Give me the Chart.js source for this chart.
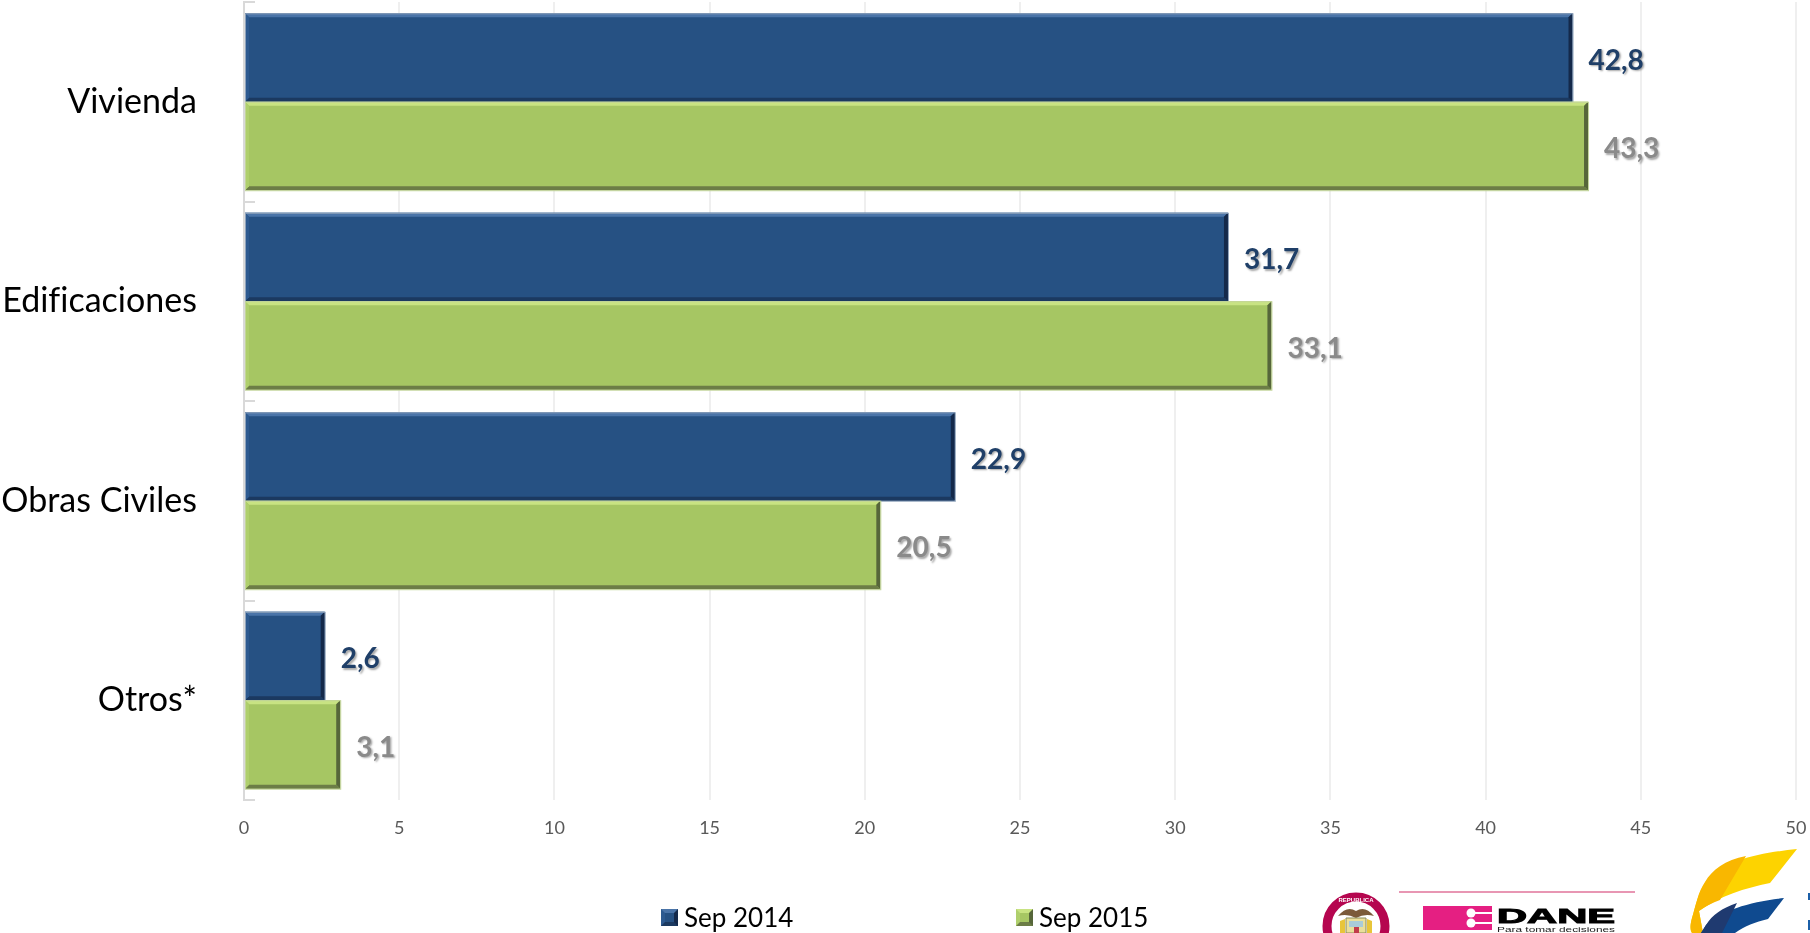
<!DOCTYPE html>
<html>
<head>
  <meta charset="UTF-8">
  <title>Sep 2014 - Sep 2015</title>
  <style>
    html, body { margin: 0; padding: 0; background: #fff; overflow: hidden; }
    #wrap { position: relative; width: 1810px; height: 933px; overflow: hidden; font-family: Lato, sans-serif; }
    #chart { position: absolute; left: 0; top: 0; }
    #logos { position: absolute; left: 0; top: 0; }
    .legend-item { position: absolute; top: 899px; height: 36px; line-height: 36px; font-size: 26px; color: #000; white-space: nowrap; }
    .legend-box { position: absolute; left: -23px; top: 10px; width: 17px; height: 17px; box-sizing: border-box; border-style: solid; border-width: 4px; }
  </style>
  <script src="https://cdn.jsdelivr.net/npm/chart.js"></script>
</head>
<body>
  <div id="wrap">
    <canvas id="chart" width="1810" height="933"></canvas>
    <div id="legend"></div>
    <svg id="logos" width="1810" height="933" viewBox="0 0 1810 933">
      <!-- escudo -->
      <circle cx="1356" cy="926" r="29" fill="#fff" stroke="#b5064f" stroke-width="9"/>
      <text x="1356" y="902" font-family="Liberation Sans" font-size="6" font-weight="bold" fill="#fff" text-anchor="middle">REPUBLICA</text>
      <path d="M1338 916 Q1347 905 1356 911 Q1365 905 1374 916 Q1365 913 1356 918 Q1347 913 1338 916 Z" fill="#7b5a3a"/>
      <path d="M1340 921 L1345 919 L1345 933 L1340 933 Z" fill="#e8c53a"/>
      <path d="M1367 919 L1372 921 L1372 933 L1367 933 Z" fill="#e8c53a"/>
      <path d="M1346 918 L1366 918 L1366 933 L1346 933 Z" fill="#eadf9a" stroke="#8a8a5a" stroke-width="1"/>
      <rect x="1349" y="921" width="14" height="6" fill="#a9cbd8"/>
      <rect x="1354" y="927" width="5" height="6" fill="#c23b4a"/>
      <!-- DANE -->
      <line x1="1399" y1="892" x2="1635" y2="892" stroke="#e0739a" stroke-width="1.5"/>
      <rect x="1423" y="906" width="69" height="24" fill="#e51f82"/>
      <circle cx="1471" cy="913" r="4.5" fill="#fff"/>
      <circle cx="1471" cy="923" r="4.5" fill="#fff"/>
      <rect x="1471" y="912" width="21" height="2" fill="#fff"/>
      <rect x="1471" y="922" width="21" height="2" fill="#fff"/>
      <text x="1497" y="923" font-family="Liberation Sans" font-size="21" font-weight="bold" fill="#000" textLength="118" lengthAdjust="spacingAndGlyphs" stroke="#000" stroke-width="1">DANE</text>
      <text x="1497" y="932" font-family="Liberation Sans" font-size="8" fill="#222" textLength="118" lengthAdjust="spacingAndGlyphs">Para tomar decisiones</text>
      <!-- bandera -->
      <path d="M1797 849 C1760 853 1725 860 1707 880 C1698 892 1696 905 1692 918 C1690 925 1690 930 1692 933 L1703 933 L1699 911 C1720 896 1745 888 1770 883 Z" fill="#fdd300"/>
      <path d="M1746 856 C1725 860 1712 870 1705 882 C1698 892 1696 905 1692 918 C1690 925 1690 930 1692 933 L1703 933 L1699 911 C1706 906 1712 903 1720 900 Z" fill="#f9b700"/>
      <path d="M1784 898 C1750 902 1722 910 1706 925 L1701 933 L1735 933 C1745 926 1755 922 1768 919 Z" fill="#0f4a8f"/>
      <path d="M1737 903 C1722 908 1712 915 1706 925 L1701 933 L1722 933 Z" fill="#1f3a70"/>
      <rect x="1808" y="893" width="2" height="7" fill="#1b5fa8"/>
      <rect x="1808" y="920" width="2" height="10" fill="#1b5fa8"/>
    </svg>
  </div>

  <script>
    // Datos
    const categorias = ['Vivienda', 'Edificaciones', 'Obras Civiles', 'Otros*'];
    const sep2014 = [42.8, 31.7, 22.9, 2.6];
    const sep2015 = [43.3, 33.1, 20.5, 3.1];
    const etiquetaSerie1 = 'Sep 2014';
    const etiquetaSerie2 = 'Sep 2015';

    // Colores de cada serie: relleno, bordes del bisel y etiqueta
    const estilos = [
      { fill: '#265183', top: '#4a74a8', right: '#14294a', bottom: '#1b3960', left: '#2d5a90', text: '#1f3f68', edge: '#8fa3bb', x: 684 },
      { fill: '#a6c663', top: '#c8e382', right: '#56663a', bottom: '#6c7d46', left: '#afcf6c', text: '#8a8a8a', edge: '#c3d59a', x: 1039 }
    ];

    // Bisel de las barras, usa la geometria que calcula Chart.js
    const biselPlugin = {
      id: 'bisel',
      afterDatasetsDraw(chart) {
        const ctx = chart.ctx;
        const d = 4;
        chart.data.datasets.forEach((ds, i) => {
          const st = estilos[i];
          chart.getDatasetMeta(i).data.forEach(el => {
            const p = el.getProps(['x', 'y', 'base', 'height']);
            const x0 = p.base, x1 = p.x, y0 = p.y - p.height / 2, y1 = p.y + p.height / 2;
            const poly = (color, pts) => {
              ctx.fillStyle = color;
              ctx.beginPath();
              pts.forEach((q, k) => k ? ctx.lineTo(q[0], q[1]) : ctx.moveTo(q[0], q[1]));
              ctx.closePath();
              ctx.fill();
            };
            ctx.save();
            poly(st.top, [[x0, y0], [x1, y0], [x1 - d, y0 + d], [x0 + d, y0 + d]]);
            poly(st.bottom, [[x0, y1], [x1, y1], [x1 - d, y1 - d], [x0 + d, y1 - d]]);
            poly(st.right, [[x1, y0], [x1, y1], [x1 - d, y1 - d], [x1 - d, y0 + d]]);
            poly(st.left, [[x0, y0], [x0, y1], [x0 + d, y1 - d], [x0 + d, y0 + d]]);
            ctx.strokeStyle = st.edge;
            ctx.lineWidth = 1;
            ctx.strokeRect(x0 + 0.5, y0 + 0.5, x1 - x0, y1 - y0);
            ctx.restore();
          });
        });
      }
    };

    // Etiquetas de valor con coma decimal y sombra
    const etiquetasPlugin = {
      id: 'etiquetas',
      beforeDraw(chart) {
        chart.ctx.letterSpacing = '0.01px'; // evita la ligadura fi de Lato
      },
      afterDatasetsDraw(chart) {
        const ctx = chart.ctx;
        chart.data.datasets.forEach((ds, i) => {
          chart.getDatasetMeta(i).data.forEach((el, j) => {
            ctx.save();
            ctx.font = 'bold 28px Lato, sans-serif';
            ctx.fillStyle = estilos[i].text;
            ctx.textAlign = 'left';
            ctx.textBaseline = 'middle';
            ctx.shadowColor = 'rgba(0,0,0,0.35)';
            ctx.shadowOffsetX = 1.5;
            ctx.shadowOffsetY = 1.5;
            ctx.shadowBlur = 2;
            ctx.fillText(ds.data[j].toFixed(1).replace('.', ','), el.x + 16, el.y + 3);
            ctx.restore();
          });
        });
      }
    };

    new Chart(document.getElementById('chart').getContext('2d'), {
      type: 'bar',
      data: {
        labels: categorias,
        datasets: [
          { label: etiquetaSerie1, data: sep2014, backgroundColor: estilos[0].fill },
          { label: etiquetaSerie2, data: sep2015, backgroundColor: estilos[1].fill }
        ]
      },
      options: {
        indexAxis: 'y',
        responsive: false,
        animation: false,
        barPercentage: 1,
        categoryPercentage: 0.887,
        layout: { padding: { top: 2, right: 14, left: 0, bottom: 0 } },
        plugins: { legend: { display: false }, tooltip: { enabled: false } },
        scales: {
          x: {
            min: 0,
            max: 50,
            ticks: { stepSize: 5, color: '#595959', font: { family: 'Lato', size: 18 }, padding: 17, maxRotation: 0 },
            grid: { color: '#efefef', lineWidth: 2, drawTicks: false },
            border: { display: false },
            afterFit(scale) {
              scale.height = 133;
              scale.paddingLeft = 0;
              scale.paddingRight = 0;
            }
          },
          y: {
            ticks: { color: '#000', font: { family: 'Lato', size: 34 }, padding: 58 },
            grid: { drawOnChartArea: false, color: '#d9d9d9', lineWidth: 2, tickLength: -11 },
            border: { color: '#d9d9d9', width: 2 },
            afterFit(scale) {
              scale.width = 244;
              scale.paddingTop = 0;
              scale.paddingBottom = 0;
            }
          }
        }
      },
      plugins: [biselPlugin, etiquetasPlugin]
    });

    // Leyenda en HTML, los textos salen de las series
    const legendEl = document.getElementById('legend');
    [etiquetaSerie1, etiquetaSerie2].forEach((nombre, i) => {
      const st = estilos[i];
      const item = document.createElement('div');
      item.className = 'legend-item';
      item.style.left = st.x + 'px';
      const box = document.createElement('span');
      box.className = 'legend-box';
      box.style.background = st.fill;
      box.style.borderColor = st.top + ' ' + st.right + ' ' + st.bottom + ' ' + st.left;
      item.appendChild(box);
      item.appendChild(document.createTextNode(nombre));
      legendEl.appendChild(item);
    });
  </script>
</body>
</html>
